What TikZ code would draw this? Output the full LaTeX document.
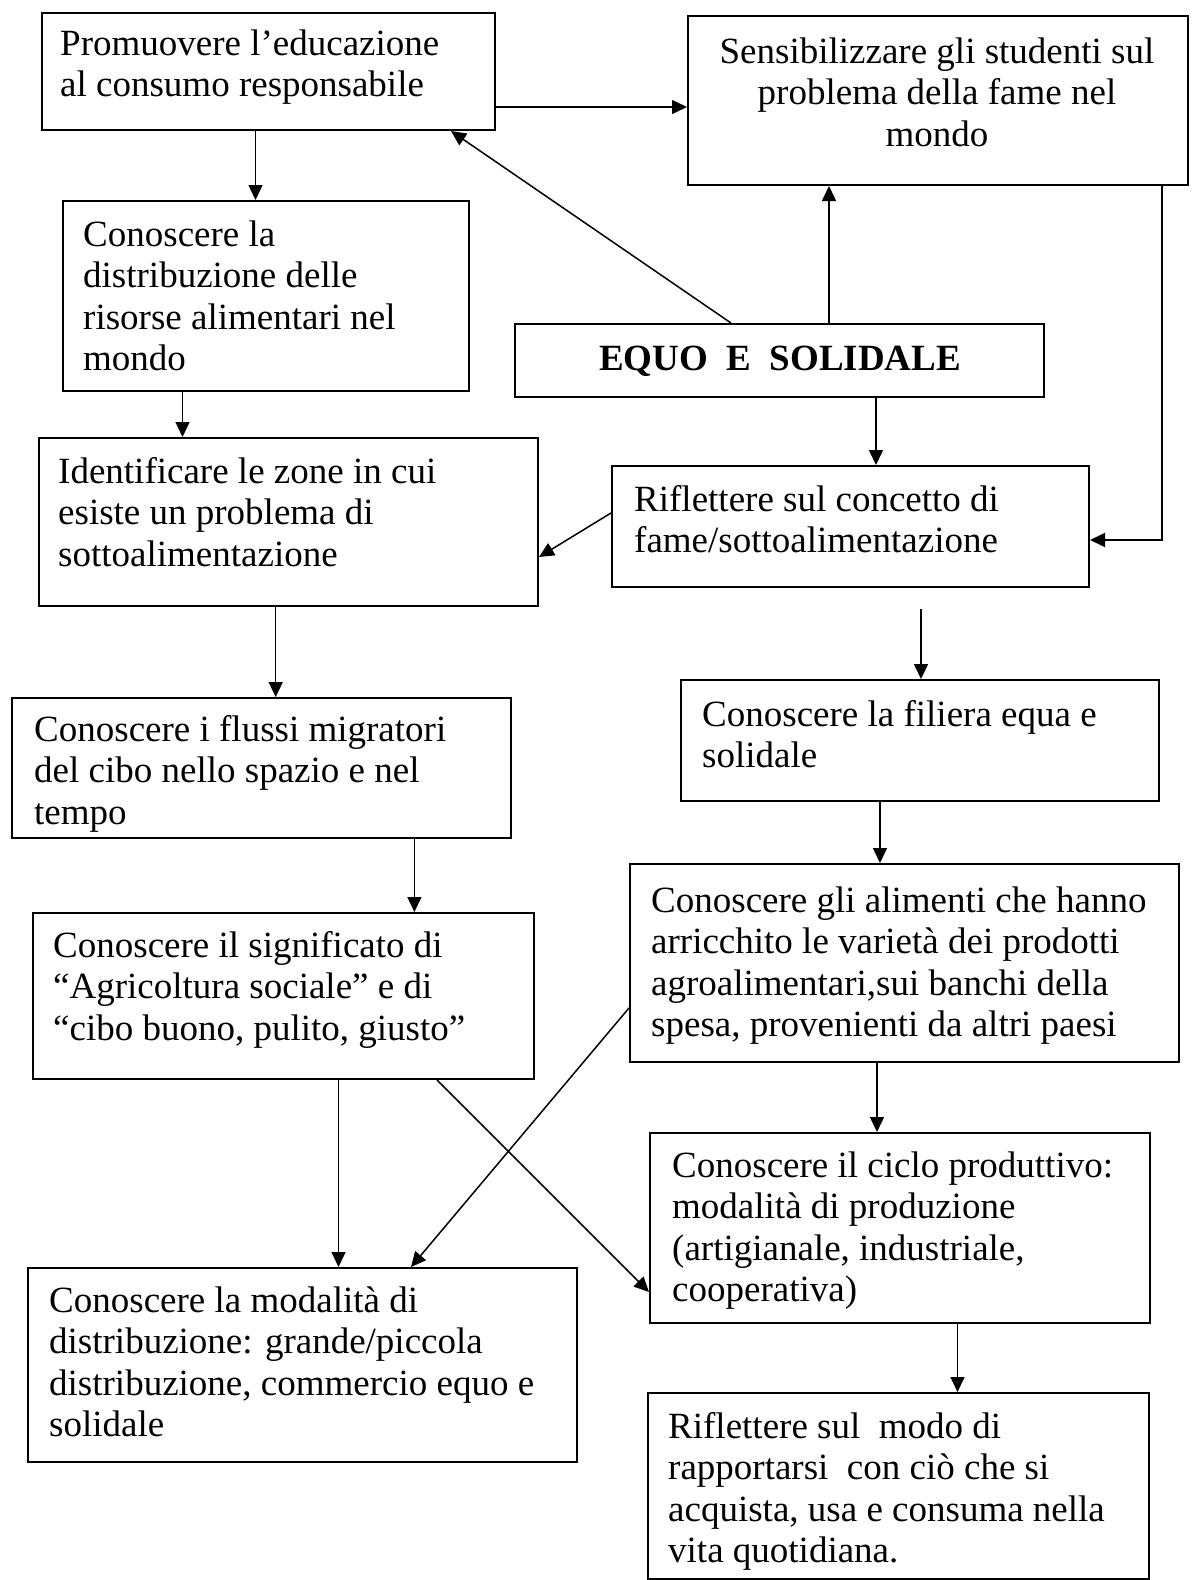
\documentclass[tikz,border=0pt]{standalone}
\usepackage{fontspec}
\setmainfont{Liberation Serif}
\usetikzlibrary{arrows.meta}
\begin{document}
\begin{tikzpicture}[x=1pt,y=-1pt,
  boxst/.style={draw, line width=2pt, inner sep=0pt, anchor=north west},
  txt/.style={anchor=north west, inner sep=0pt, align=left, font=\fontsize{37}{41.5}\selectfont},
  ctxt/.style={anchor=north, inner sep=0pt, align=center, font=\fontsize{37}{41.5}\selectfont},
  arr/.style={line width=1.5pt, -{Triangle[length=15pt,width=14pt]}}]
\fill[white] (0,0) rectangle (1197,1580);
\useasboundingbox (0,0) rectangle (1197,1580);

% boxes
\node[boxst, minimum width=453, minimum height=117] (b1) at (41,12) {};
\node[boxst, minimum width=500, minimum height=169] (b2) at (687,15) {};
\node[boxst, minimum width=406, minimum height=190] (b3) at (62,200) {};
\node[boxst, minimum width=529, minimum height=73] (b4) at (514,323) {};
\node[boxst, minimum width=499, minimum height=168] (b5) at (38,437) {};
\node[boxst, minimum width=477, minimum height=121] (b6) at (611,465) {};
\node[boxst, minimum width=499, minimum height=140] (b7) at (11,697) {};
\node[boxst, minimum width=478, minimum height=121] (b8) at (680,679) {};
\node[boxst, minimum width=501, minimum height=166] (b9) at (32,912) {};
\node[boxst, minimum width=549, minimum height=198] (b10) at (629,863) {};
\node[boxst, minimum width=500, minimum height=190] (b11) at (649,1132) {};
\node[boxst, minimum width=549, minimum height=194] (b12) at (27,1267) {};
\node[boxst, minimum width=501, minimum height=186] (b13) at (647,1392) {};

% texts
\node[txt] (t1) at (60,26) {\strut Promuovere l'educazione\\al consumo responsabile};
\node[ctxt] (t2) at (937,34) {\strut Sensibilizzare gli studenti sul\\problema della fame nel\\mondo};
\node[txt] (t3) at (83,217) {\strut Conoscere la\\distribuzione delle\\risorse alimentari nel\\mondo};
\node[anchor=base, inner sep=0pt, font=\fontsize{37}{41.5}\selectfont\bfseries] (t4) at (780,370) {EQUO\ \ E\ \ SOLIDALE};
\node[txt] (t5) at (58,454) {\strut Identificare le zone in cui\\esiste un problema di\\sottoalimentazione};
\node[txt] (t6) at (634,482) {\strut Riflettere sul concetto di\\fame/sottoalimentazione};
\node[txt] (t7) at (34,712) {\strut Conoscere i flussi migratori\\del cibo nello spazio e nel\\tempo};
\node[txt] (t8) at (702,697) {\strut Conoscere la filiera equa e\\solidale};
\node[txt] (t9) at (53,928) {\strut Conoscere il significato di\\“Agricoltura sociale” e di\\“cibo buono, pulito, giusto”};
\node[txt] (t10) at (651,883) {\strut Conoscere gli alimenti che hanno\\arricchito le varietà dei prodotti\\agroalimentari,sui banchi della\\spesa, provenienti da altri paesi};
\node[txt] (t11) at (672,1148) {\strut Conoscere il ciclo produttivo:\\modalità di produzione\\(artigianale, industriale,\\cooperativa)};
\node[txt] (t12) at (49,1283) {\strut Conoscere la modalità di\\distribuzione: grande/piccola\\distribuzione, commercio equo e\\solidale};
\node[txt] (t13) at (668,1409) {\strut Riflettere sul\ \ modo di\\rapportarsi\ \ con ciò che si\\acquista, usa e consuma nella\\vita quotidiana.};

% connectors
\draw[arr] (b1.east |- 0,107) -- (b2.west |- 0,107);
\draw[arr] (b1.south -| 255.5,0) -- (b3.north -| 255.5,0);
\draw[arr] (b4.north -| 731,0) -- (b1.south -| 451,0);
\draw[arr] (b4.north -| 829,0) -- (b2.south -| 829,0);
\draw[arr] (b3.south -| 182.5,0) -- (b5.north -| 182.5,0);
\draw[arr] (b4.south -| 876,0) -- (b6.north -| 876,0);
\draw[arr] (b2.south -| 1162,0) -- (1162,540) -- (b6.east |- 0,540);
\draw[arr] (b6.west |- 0,513) -- (b5.east |- 0,557);
\draw[arr] (b5.south -| 275.7,0) -- (b7.north -| 275.7,0);
\coordinate (fa) at (921,609);
\draw[arr] (fa) -- (b8.north -| fa);
\draw[arr] (b7.south -| 414.4,0) -- (b9.north -| 414.4,0);
\draw[arr] (b8.south -| 880,0) -- (b10.north -| 880,0);
\draw[arr] (b9.south -| 338.5,0) -- (b12.north -| 338.5,0);
\draw[arr] (b9.south -| 437,0) -- (b11.west |- 0,1292);
\draw[arr] (b10.west |- 0,1008) -- (b12.north -| 411,0);
\draw[arr] (b10.south -| 877,0) -- (b11.north -| 877,0);
\draw[arr] (b11.south -| 957.5,0) -- (b13.north -| 957.5,0);
\end{tikzpicture}
\end{document}
